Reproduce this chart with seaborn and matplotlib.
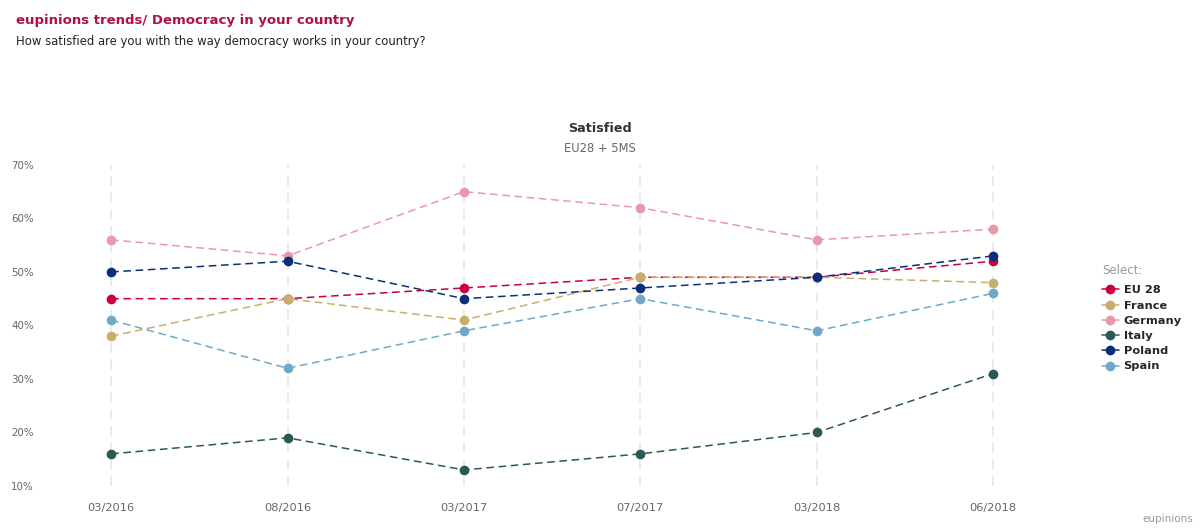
"""eupinions trends: satisfaction with democracy, EU28 + 5 member states"""

import pandas as pd
import matplotlib.pyplot as plt
import seaborn as sns

# Survey waves and values (% satisfied)
waves = ["03/2016", "08/2016", "03/2017", "07/2017", "03/2018", "06/2018"]
countries = ["EU 28", "France", "Germany", "Italy", "Poland", "Spain"]
eu28 = [45, 45, 47, 49, 49, 52]
france = [38, 45, 41, 49, 49, 48]
germany = [56, 53, 65, 62, 56, 58]
italy = [16, 19, 13, 16, 20, 31]
poland = [50, 52, 45, 47, 49, 53]
spain = [41, 32, 39, 45, 39, 46]
yticks = [10, 20, 30, 40, 50, 60, 70]

colors = ["#c8003c", "#c4b06a", "#e899a8", "#2a5a55", "#0a2f7a", "#6fa8c8"]

# Long format for seaborn
series = [eu28, france, germany, italy, poland, spain]
df = pd.DataFrame({
    "wave": waves * len(countries),
    "value": [v for s in series for v in s],
    "country": [c for c in countries for _ in waves],
})

sns.set_style("white")
plt.rcParams["font.family"] = ["DejaVu Sans"]

fig = plt.figure(figsize=(12, 5.29), dpi=100)
ax = fig.add_axes([0.055, 0.0813, 0.8167, 0.607])

palette = dict(zip(countries, colors))
sns.lineplot(data=df, x="wave", y="value", hue="country", style="country",
             palette=palette, dashes={c: (5, 3) for c in countries},
             markers={c: "o" for c in countries}, markersize=7,
             markeredgewidth=0, linewidth=1.1, ax=ax, sort=False)

# Axes styling
for s in ax.spines.values():
    s.set_visible(False)
ax.set_xlim(-0.256, 5.3)
ax.set_ylim(10, 70)
ax.set_yticks(yticks)
ax.set_yticklabels([f"{t}%" for t in yticks], color="#666666", fontsize=7.4)
ax.tick_params(axis="x", colors="#666666", labelsize=8.2, length=0, pad=12)
ax.tick_params(axis="y", length=0, pad=23)
ax.set_xlabel("")
ax.set_ylabel("")
ax.grid(False)
for i in range(len(waves)):
    ax.axvline(i, color="#e6e6e6", linestyle=(0, (6, 4)), linewidth=1.2, zorder=0)

# Legend
handles, labels = ax.get_legend_handles_labels()
leg = ax.legend(handles, labels, loc="upper left", bbox_to_anchor=(1.057, 0.625),
                frameon=False, borderpad=0, borderaxespad=0,
                handlelength=1.5, handletextpad=0.4, labelspacing=0.46,
                prop={"weight": "bold", "size": 8.2})
for h in leg.legend_handles:
    h.set_linestyle("-")
fig.text(1102 / 1200, 1 - 271 / 529, "Select:", color="#999999", fontsize=8.5,
         ha="left", va="center")

# Titles
fig.text(0.0135, 0.962, "eupinions trends/ Democracy in your country",
         color="#b0104a", fontsize=9.5, fontweight="bold", va="center")
fig.text(0.0135, 0.921, "How satisfied are you with the way democracy works in your country?",
         color="#222222", fontsize=8.4, va="center")
fig.text(0.5, 0.758, "Satisfied", color="#333333", fontsize=9.2,
         fontweight="bold", ha="center", va="center")
fig.text(0.5, 0.719, "EU28 + 5MS", color="#666666", fontsize=8.3,
         ha="center", va="center")
fig.text(0.994, 0.018, "eupinions", color="#999999", fontsize=7.5,
         ha="right", va="center")

plt.savefig("out.png", dpi=100)
